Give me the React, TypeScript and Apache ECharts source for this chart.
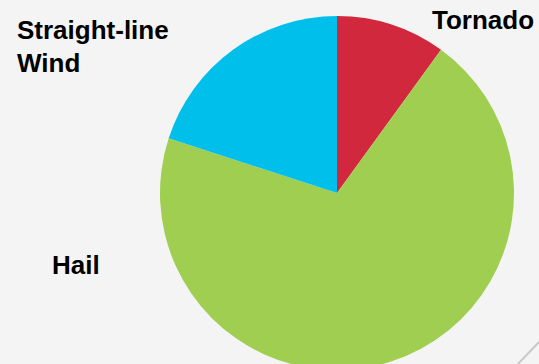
import React, { useEffect, useRef } from "react";
import * as echarts from "echarts";

const categories = ["Tornado", "Hail", "Straight-line\nWind"];
const values = [10, 70, 20];
const colors = ["#d2283e", "#a0ce50", "#00c0eb"];

export default function App() {
  const ref = useRef<HTMLDivElement>(null);
  useEffect(() => {
    if (!ref.current) return;
    const chart = echarts.init(ref.current, null, { renderer: "svg" });
    const labelPos: Record<number, { x: number; y: number }> = {
      0: { x: 432, y: 20 },
      1: { x: 52, y: 265 },
      2: { x: 17, y: 46 },
    };
    chart.setOption({
      animation: false,
      backgroundColor: "#f4f4f4",
      series: [
        {
          type: "pie",
          center: [337, 193],
          radius: 177,
          startAngle: 90,
          clockwise: true,
          silent: true,
          itemStyle: { borderWidth: 0, borderColor: "transparent" },
          data: categories.map((name, i) => ({
            name,
            value: values[i],
            itemStyle: { color: colors[i] },
          })),
          label: {
            show: true,
            formatter: "{b}",
            color: "#000",
            fontFamily: "Liberation Sans, Arial, sans-serif",
            fontWeight: "bold",
            fontSize: 26,
            lineHeight: 33,
            align: "left",
            overflow: "none",
            width: 300,
          },
          labelLine: { show: false },
          labelLayout: (params: any) => {
            const p = labelPos[params.dataIndex];
            return { x: p.x, y: p.y, align: "left", verticalAlign: "middle" };
          },
        },
      ],
      graphic: [
        {
          type: "line",
          shape: { x1: 518, y1: 364, x2: 539, y2: 342 },
          style: { stroke: "#c8c8c8", lineWidth: 2 },
          silent: true,
        },
      ],
    });
    return () => chart.dispose();
  }, []);
  return (
    <div
      ref={ref}
      style={{ position: "fixed", left: 0, top: 0, width: 539, height: 364 }}
    />
  );
}
